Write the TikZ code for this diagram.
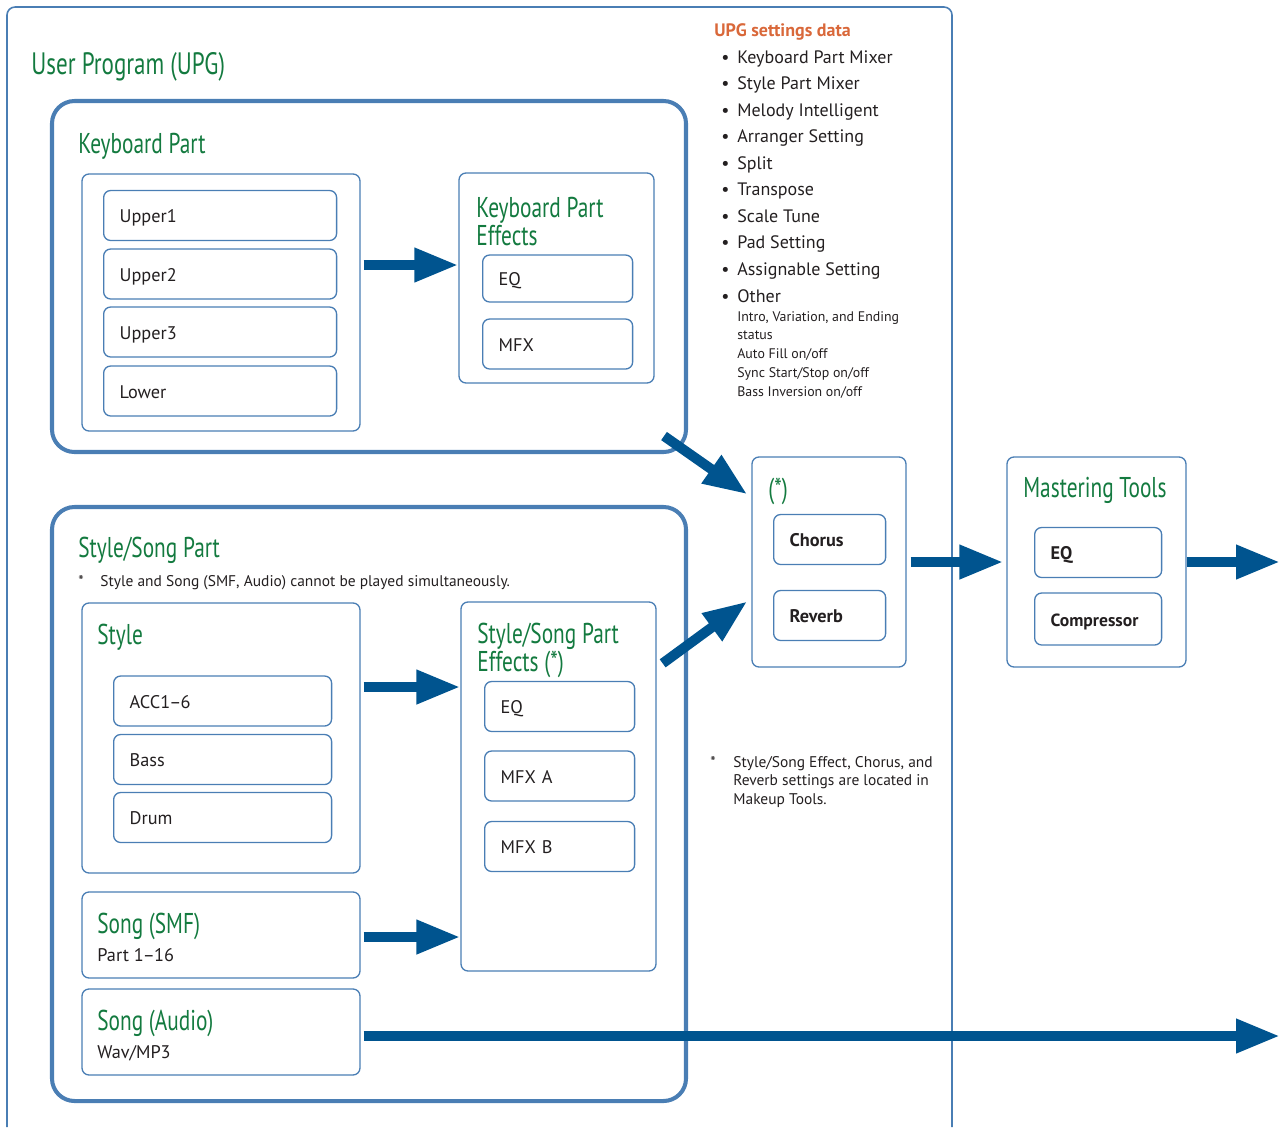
\documentclass[tikz,border=0pt]{standalone}
\usepackage{fontspec}
\setmainfont{PT Sans}
\newfontfamily\condfamily[FakeStretch=0.745]{PT Sans}
\usepackage{tikz}
\usetikzlibrary{arrows.meta,positioning,calc,fit}
\definecolor{boxblue}{HTML}{4A7EB4}
\definecolor{flowblue}{HTML}{00548F}
\definecolor{leafgreen}{HTML}{137A3F}
\definecolor{hdorange}{HTML}{D9683A}
\definecolor{ink}{HTML}{231F20}
\newcommand{\ttlfont}{\condfamily\fontsize{16.3}{15.9}\selectfont}
\newcommand{\itmfont}{\fontsize{10.4}{12}\selectfont}
\tikzset{
  upg/.style={draw=boxblue,line width=0.9pt,rounded corners=0.16cm},
  frame/.style={draw=boxblue,line width=2.3pt,rounded corners=0.45cm,inner sep=0pt},
  panel/.style={draw=boxblue,line width=0.75pt,rounded corners=0.14cm,inner sep=0pt},
  item/.style={draw=boxblue,line width=0.75pt,rounded corners=0.14cm,anchor=west,align=left,
    inner xsep=0.32cm,inner ysep=0pt,minimum height=1cm,font=\itmfont,text=ink,text width=#1,
    text height=9.2pt,text depth=1.2pt},
  item/.default=2.36cm,
  ttl/.style={anchor=base west,inner sep=0pt,align=left,font=\ttlfont,text=leafgreen},
  txt/.style={anchor=base west,inner sep=0pt,align=left,text=ink},
  flow/.style={-{Triangle[length=0.88cm,width=0.64cm]},line width=0.2cm,draw=flowblue},
}
\newcommand{\bul}{\hspace*{0.14cm}\makebox[0.32cm][l]{\textbullet}}

\begin{document}
\begin{tikzpicture}[x=0.02cm,y=-0.02cm]
  \useasboundingbox (0,0) rectangle (1281,1127);
  % user program frame, open at the bottom
  \draw[upg] (7,1127) -- (7,7) -- (952,7) -- (952,1127);
  \node[ttl,font=\condfamily\fontsize{17.6}{19}\selectfont] (upgt) at (31,74) {User Program (UPG)};

  % keyboard part
  \node[frame,fit={(52,101) (686,452)}] (kbpart) {};
  \node[ttl] (kbt) at (78,153) {Keyboard Part};
  \node[panel,fit={(82,174) (360,431)}] (kparts) {};
  \node[item=4.02cm] (up1) at (103,215.5) {Upper1};
  \node[item=4.02cm] (up2) at (103,274) {Upper2};
  \node[item=4.02cm] (up3) at (103,332) {Upper3};
  \node[item=4.02cm] (low) at (103,391) {Lower};
  \node[panel,fit={(459,173) (654,383)}] (kpfx) {};
  \node[ttl] (kpfxt) at (476,245) {Keyboard Part\\Effects};
  \node[item,minimum height=0.94cm] (kpeq) at (482,278.5) {EQ};
  \node[item] (kpmfx) at (482,344) {MFX};

  % style/song part
  \node[frame,fit={(52,507) (686,1101)}] (sspart) {};
  \node[ttl] (sst) at (78,557) {Style/Song Part};
  \node[txt,font=\fontsize{8.8}{10}\selectfont] (ssstar) at (78,586) {*};
  \node[txt,font=\fontsize{8.8}{10}\selectfont] (ssnote) at (100,586) {Style and Song (SMF, Audio) cannot be played simultaneously.};
  \node[panel,fit={(82,603) (360,873)}] (style) {};
  \node[ttl] (stylet) at (97,644) {Style};
  \node[item=3.72cm] (acc) at (113,701) {ACC1\kern-0.5pt--\kern-0.5pt6};
  \node[item=3.72cm] (bass) at (113,759.5) {Bass};
  \node[item=3.72cm] (drum) at (113,817.5) {Drum};
  \node[panel,fit={(461,602) (656,971)}] (ssfx) {};
  \node[ttl] (ssfxt) at (477,671) {Style/Song Part\\Effects (*)};
  \node[item] (sseq) at (484,706.5) {EQ};
  \node[item] (ssmfxa) at (484,776) {MFX A};
  \node[item] (ssmfxb) at (484,846.5) {MFX B};
  \node[panel,fit={(82,892) (360,978)}] (smf) {};
  \node[ttl] (smft) at (97,933) {Song (SMF)};
  \node[txt,font=\itmfont] (smfp) at (97,961) {Part 1\kern-0.5pt--\kern-0.5pt16};
  \node[panel,fit={(82,989) (360,1075)}] (audio) {};
  \node[ttl] (audiot) at (97,1030) {Song (Audio)};
  \node[txt,font=\itmfont] (audiop) at (97,1058) {Wav/MP3};

  % chorus / reverb
  \node[panel,fit={(752,457) (906,667)}] (star) {};
  \node[ttl] (start) at (768,498) {(*)};
  \node[item=1.6cm,font=\itmfont\bfseries] (chorus) at (773,539.5) {Chorus};
  \node[item=1.6cm,font=\itmfont\bfseries] (reverb) at (773,615.5) {Reverb};

  % mastering tools
  \node[panel,fit={(1007,457) (1186,667)}] (master) {};
  \node[ttl] (mastert) at (1023,497) {Mastering Tools};
  \node[item=1.9cm,font=\itmfont\bfseries] (meq) at (1034,552.5) {EQ};
  \node[item=1.9cm,minimum height=1.04cm,font=\fontsize{10}{12}\selectfont\bfseries] (mcomp) at (1034,619) {Compressor};

  % settings data
  \node[txt,font=\fontsize{10.25}{15.1}\selectfont] (setlist) at (714,302) {{\color{hdorange}\bfseries UPG settings data}\\
    \bul Keyboard Part Mixer\\ \bul Style Part Mixer\\ \bul Melody Intelligent\\
    \bul Arranger Setting\\ \bul Split\\ \bul Transpose\\ \bul Scale Tune\\
    \bul Pad Setting\\ \bul Assignable Setting\\ \bul Other};
  \node[txt,font=\fontsize{7.9}{10.66}\selectfont] (other) at (737,396) {Intro, Variation, and Ending\\status\\Auto Fill on/off\\Sync Start/Stop on/off\\Bass Inversion on/off};
  \node[txt,font=\fontsize{8.8}{10.5}\selectfont] (fnstar) at (710,767) {*};
  \node[txt,font=\fontsize{8.8}{10.5}\selectfont] (fn) at (733,804) {Style/Song Effect, Chorus, and\\Reverb settings are located in\\Makeup Tools.};

  % flows
  \coordinate (ka) at (0,265);
  \coordinate (sa) at (0,687);
  \coordinate (sm) at (0,937);
  \coordinate (ma) at (0,562);
  \coordinate (out1) at (1280,562);
  \coordinate (out2) at (1280,1036);
  \draw[flow,shorten <=0.06cm] (kparts.east |- ka) -- (kpfx.west |- ka);
  \draw[flow,shorten <=0.06cm] (style.east |- sa) -- (ssfx.west |- sa);
  \draw[flow,shorten <=0.06cm] (smf.east |- sm) -- (ssfx.west |- sm);
  \draw[flow] ([shift={(-24,-18)}]kbpart.south east) -- ([shift={(-4,38)}]star.north west);
  \draw[flow] ([shift={(6,62)}]ssfx.north east) -- ([shift={(-4,145)}]star.north west);
  \draw[flow,shorten <=0.08cm,shorten >=0.06cm] (star.east |- ma) -- (master.west |- ma);
  \draw[flow] (master.east |- ma) -- (out1);
  \draw[flow,shorten <=0.06cm] (audio.east |- out2) -- (out2);
\end{tikzpicture}
\end{document}
